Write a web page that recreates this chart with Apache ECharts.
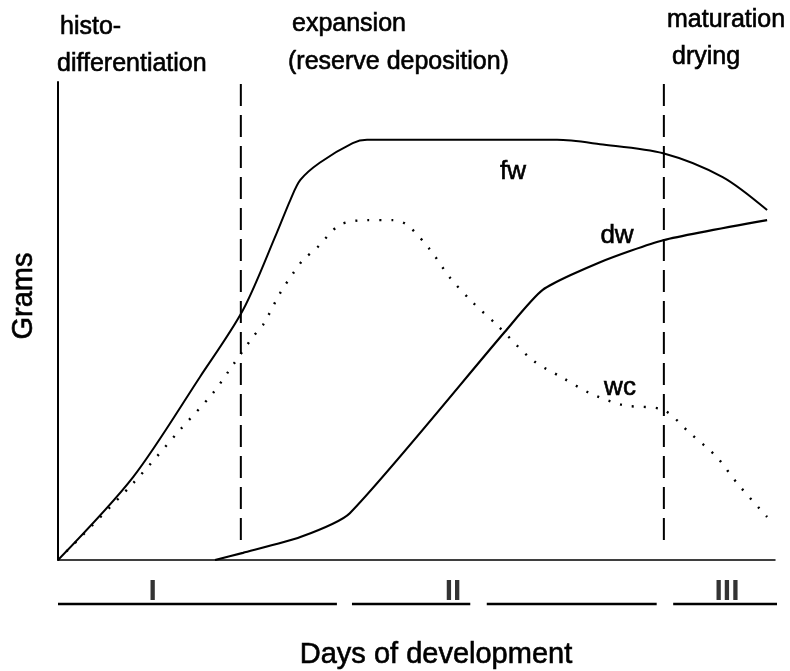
<!DOCTYPE html>
<html><head><meta charset="utf-8">
<script src="https://cdn.jsdelivr.net/npm/echarts@6/dist/echarts.min.js"></script>
<style>html,body{margin:0;padding:0;background:#fff}#c{width:790px;height:671px}</style>
</head><body><div id="c"></div>
<script>
// Fresh weight (fw), dry weight (dw), water content (wc)
const fwX=[0,10.5,19.8,25.8,30.5,32.4,33.8,36.5,41.1,43.1,69.6,75.6,84.4,92.7,98.9];
const fwY=[0,17.4,38.3,52.3,68.4,75.3,79.5,83.1,87.2,87.9,87.9,87.0,85.1,80.1,73.2];
const dwX=[21.9,25.8,33.8,40.7,62.3,67.6,75.6,84.4,98.9];
const dwY=[0,1.5,4.8,9.8,47.7,56.5,62.3,66.9,71.1];
const wcX=[0,10.5,17.0,21.6,24.4,27.2,28.6,31.0,32.8,34.2,36.1,39.3,43.1,46.7,48.7,51.9,54.7,57.9,61.2,66.2,70.4,74.2,78.8,84.4,88.1,91.9,94.7,98.9];
const wcY=[0,16.1,27.2,34.9,40.8,46.7,49.2,55.9,60.0,62.8,65.3,70.1,71.1,71.1,70.1,64.9,59.0,53.8,49.2,41.8,38.1,34.9,32.4,31.4,26.6,21.5,16.1,9.0];
const boundaryX=[25.5,84.5];
const boundaryY=[4.2,100];
const phaseNames=['I','II','III'];
const phaseLabelX=[13.2,55.1,93.3];
const phaseSegStart=[0,41.0,59.8,85.8];
const phaseSegEnd=[38.9,57.5,83.5,100.4];

const zip=(xs,ys)=>xs.map((x,i)=>[x,ys[i]]);
const FONT='"Liberation Sans", Arial, Helvetica, sans-serif';
const BAR_LEVEL=34, LABEL_LEVEL=22;

const chart=echarts.init(document.getElementById('c'),null,{renderer:'canvas'});
const lineBase={type:'line',showSymbol:false,symbol:'none',animation:false,silent:true,xAxisIndex:0,yAxisIndex:0};

const series=[
  Object.assign({},lineBase,{name:'fw',data:zip(fwX,fwY),smooth:0.3,lineStyle:{color:'#000',width:2}}),
  Object.assign({},lineBase,{name:'dw',data:zip(dwX,dwY),smooth:0.2,lineStyle:{color:'#000',width:2.2}}),
  Object.assign({},lineBase,{name:'wc',data:zip(wcX,wcY),smooth:0.3,lineStyle:{color:'#000',width:2.4,type:[2,10]}})
];
boundaryX.forEach((bx,i)=>{
  series.push(Object.assign({},lineBase,{name:'boundary'+i,data:[[bx,boundaryY[0]],[bx,boundaryY[1]]],lineStyle:{color:'#000',width:2,type:[22,9]}}));
});
phaseSegStart.forEach((s,i)=>{
  series.push({type:'line',xAxisIndex:1,yAxisIndex:1,showSymbol:false,symbol:'none',animation:false,silent:true,
    data:[[s,BAR_LEVEL],[phaseSegEnd[i],BAR_LEVEL]],lineStyle:{color:'#000',width:2.6}});
});
series.push({type:'scatter',xAxisIndex:1,yAxisIndex:1,symbolSize:0,animation:false,silent:true,
  data:phaseNames.map((n,i)=>({value:[phaseLabelX[i],LABEL_LEVEL],name:n})),
  label:{show:true,position:'inside',formatter:p=>p.name,color:'#000',fontSize:30,fontWeight:'bold',fontFamily:FONT}});

const txt=(text,x,y,size,align,extra)=>Object.assign({type:'text',x:x,y:y,silent:true,
  style:{text:text,fill:'#000',font:'normal '+size+'px '+FONT,align:align||'left',verticalAlign:'middle',stroke:'#000',lineWidth:0.6}},extra||{});

chart.setOption({
  animation:false,
  backgroundColor:'#fff',
  grid:[{left:58,right:15,top:82,bottom:111},{left:58,right:15,top:570,height:50}],
  xAxis:[
    {type:'value',gridIndex:0,min:0,max:100,axisLine:{show:true,lineStyle:{color:'#000',width:1.5}},axisTick:{show:false},axisLabel:{show:false},splitLine:{show:false}},
    {type:'value',gridIndex:1,min:0,max:100,show:false}
  ],
  yAxis:[
    {type:'value',gridIndex:0,min:0,max:100,axisLine:{show:true,lineStyle:{color:'#000',width:2}},axisTick:{show:false},axisLabel:{show:false},splitLine:{show:false}},
    {type:'value',gridIndex:1,min:0,max:50,inverse:true,show:false}
  ],
  series:series,
  graphic:[
    txt('histo-',60,27,25),
    txt('differentiation',57,64,25),
    txt('expansion',292,24,25),
    txt('(reserve deposition)',288,62,25),
    txt('maturation',667,20,25),
    txt('drying',672,57,25),
    txt('fw',513,172,26,'center'),
    txt('dw',617,236,26,'center'),
    txt('wc',620,388,26,'center'),
    txt('Grams',24,296,29,'center',{rotation:Math.PI/2}),
    txt('Days of development',436,655,29,'center')
  ]
});
</script></body></html>
